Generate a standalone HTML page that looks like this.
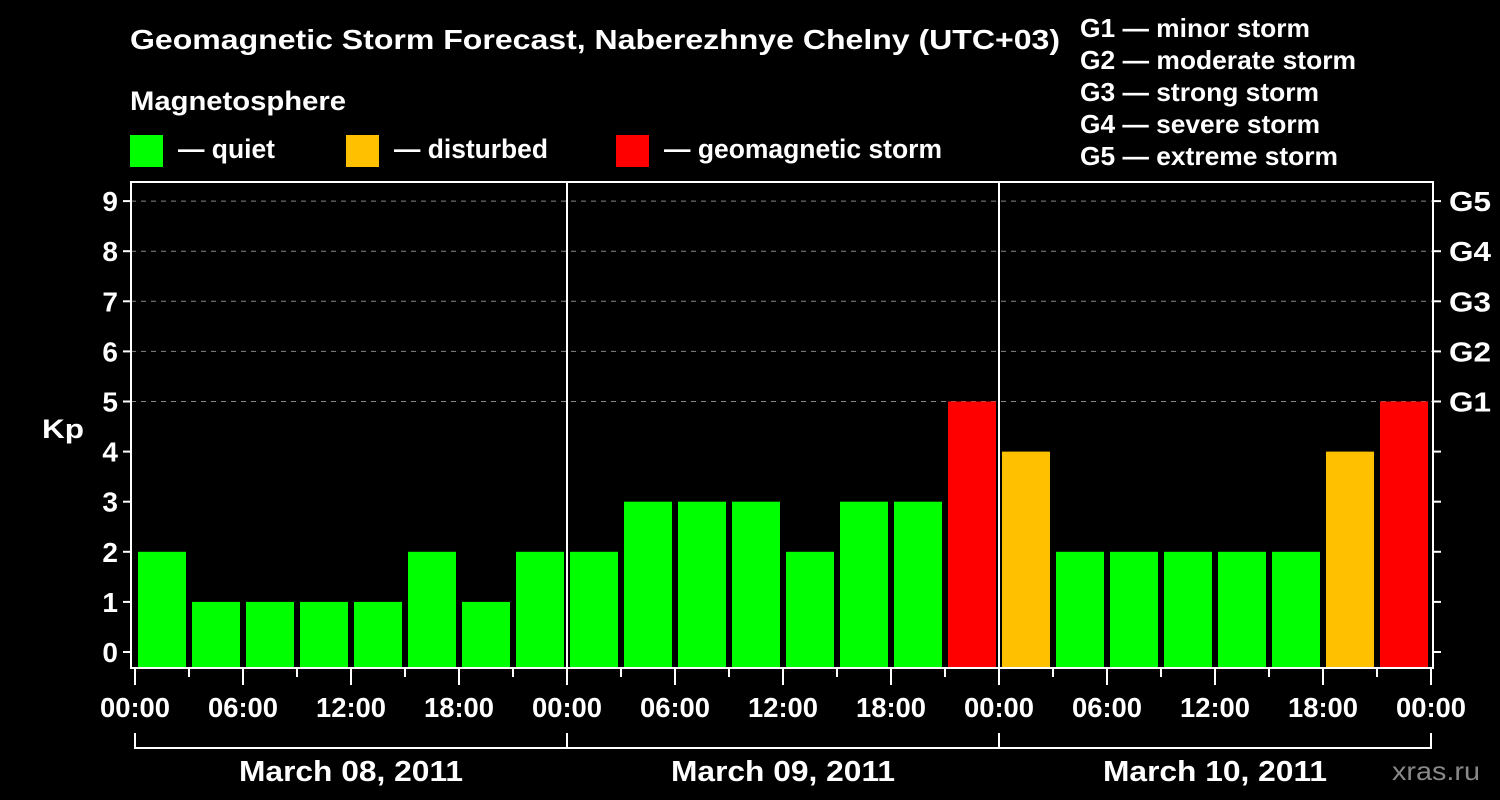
<!DOCTYPE html>
<html><head><meta charset="utf-8"><style>
html,body{margin:0;padding:0;background:#000;}
svg{display:block;font-family:"Liberation Sans",Arial,sans-serif;font-weight:bold;}
</style></head><body>
<svg id="c" width="1500" height="800" viewBox="0 0 1500 800">
<rect width="1500" height="800" fill="#000"/>
<text x="130" y="49" font-size="28" textLength="930" lengthAdjust="spacingAndGlyphs" fill="#fff">Geomagnetic Storm Forecast, Naberezhnye Chelny (UTC+03)</text>
<text x="130" y="110" font-size="27" textLength="216" lengthAdjust="spacingAndGlyphs" fill="#fff">Magnetosphere</text>
<g><rect x="130" y="135" width="33" height="32" fill="#00ff00"/><text x="178" y="158" font-size="27" textLength="97" lengthAdjust="spacingAndGlyphs" fill="#fff">— quiet</text></g>
<g><rect x="346" y="135" width="33" height="32" fill="#ffc000"/><text x="394" y="158" font-size="27" textLength="154" lengthAdjust="spacingAndGlyphs" fill="#fff">— disturbed</text></g>
<g><rect x="616" y="135" width="33" height="32" fill="#ff0000"/><text x="664" y="158" font-size="27" textLength="278" lengthAdjust="spacingAndGlyphs" fill="#fff">— geomagnetic storm</text></g>
<g font-size="26" fill="#fff">
<text x="1080" y="37" textLength="230" lengthAdjust="spacingAndGlyphs">G1 — minor storm</text>
<text x="1080" y="69" textLength="276" lengthAdjust="spacingAndGlyphs">G2 — moderate storm</text>
<text x="1080" y="101" textLength="239" lengthAdjust="spacingAndGlyphs">G3 — strong storm</text>
<text x="1080" y="133" textLength="240" lengthAdjust="spacingAndGlyphs">G4 — severe storm</text>
<text x="1080" y="165" textLength="258" lengthAdjust="spacingAndGlyphs">G5 — extreme storm</text>
</g>
<text x="42" y="438" font-size="27" textLength="42" lengthAdjust="spacingAndGlyphs" fill="#fff">Kp</text>
<text x="1392" y="780" font-size="26" textLength="88" lengthAdjust="spacingAndGlyphs" fill="#888" font-weight="normal">xras.ru</text>
<g id="plot"></g>
</svg>
<script>
const kp = [2,1,1,1,1,2,1,2, 2,3,3,3,2,3,3,5, 4,2,2,2,2,2,4,5];
const days = ["March 08, 2011","March 09, 2011","March 10, 2011"];
const timeLabels = ["00:00","06:00","12:00","18:00"];
const yTicks = [0,1,2,3,4,5,6,7,8,9];
const gLabels = ["G1","G2","G3","G4","G5"];

const NS="http://www.w3.org/2000/svg";
const g=document.getElementById('plot');
const L=131,R=1433,T=182,B=668,X0=135,DAY=432;
const y=v=>652-v*50.1;
const x=h=>X0+h*(DAY/24);
function mk(t,a){const e=document.createElementNS(NS,t);for(const k in a)e.setAttribute(k,a[k]);g.appendChild(e);return e;}
yTicks.forEach(v=>{
  if(v>=5){const e=mk('line',{x1:L,x2:R,y1:y(v),y2:y(v),stroke:'#888','stroke-dasharray':'5,5','stroke-width':1});
  
  }
  const t=mk('line',{x1:L-8,x2:L,y1:y(v),y2:y(v),stroke:'#fff','stroke-width':2});
  
  
  const rt=mk('line',{x1:R,x2:R+8,y1:y(v),y2:y(v),stroke:'#fff','stroke-width':2});
  
  
  const lb=mk('text',{x:L-13,y:y(v)+10,'font-size':28,fill:'#fff','text-anchor':'end'});
  lb.textContent=v;
  
  
});
gLabels.forEach((s,i)=>{
  const lb=mk('text',{x:R+16,y:y(5+i)+10,'font-size':28,fill:'#fff',textLength:42,lengthAdjust:'spacingAndGlyphs'});
  lb.textContent=s;
  
  
});
kp.forEach((v,i)=>{
  const c=v>=5?'#ff0000':(v>=4?'#ffc000':'#00ff00');
  const b=mk('rect',{x:x(i*3)+3,y:y(v),width:48,height:B-y(v),fill:c});
  
  
});
const fr=mk('rect',{x:L,y:T,width:R-L,height:B-T,fill:'none',stroke:'#fff','stroke-width':2});


[1,2].forEach(d=>{
  const l=mk('line',{x1:x(d*24),x2:x(d*24),y1:T,y2:B,stroke:'#fff','stroke-width':2});
  
  
});
for(let h=0;h<=72;h+=3){
  const major=h%6===0;
  const t=mk('line',{x1:x(h),x2:x(h),y1:B,y2:B+(major?17:9),stroke:'#fff','stroke-width':2});
  
  
  if(major){
    const lb=mk('text',{x:x(h),y:B+49,'font-size':28,fill:'#fff','text-anchor':'middle',textLength:70,lengthAdjust:'spacingAndGlyphs'});
    lb.textContent=timeLabels[(h/6)%4];
    
    
  }
}
days.forEach((d,i)=>{
  const p=mk('path',{d:`M${x(i*24)} 733 V748 H${x(i*24+24)} V733`,fill:'none',stroke:'#fff','stroke-width':2});
  
  
  const lb=mk('text',{x:x(i*24+12),y:781,'font-size':29,fill:'#fff','text-anchor':'middle',textLength:224,lengthAdjust:'spacingAndGlyphs'});
  lb.textContent=d;
  
  
});
</script>
</body></html>
